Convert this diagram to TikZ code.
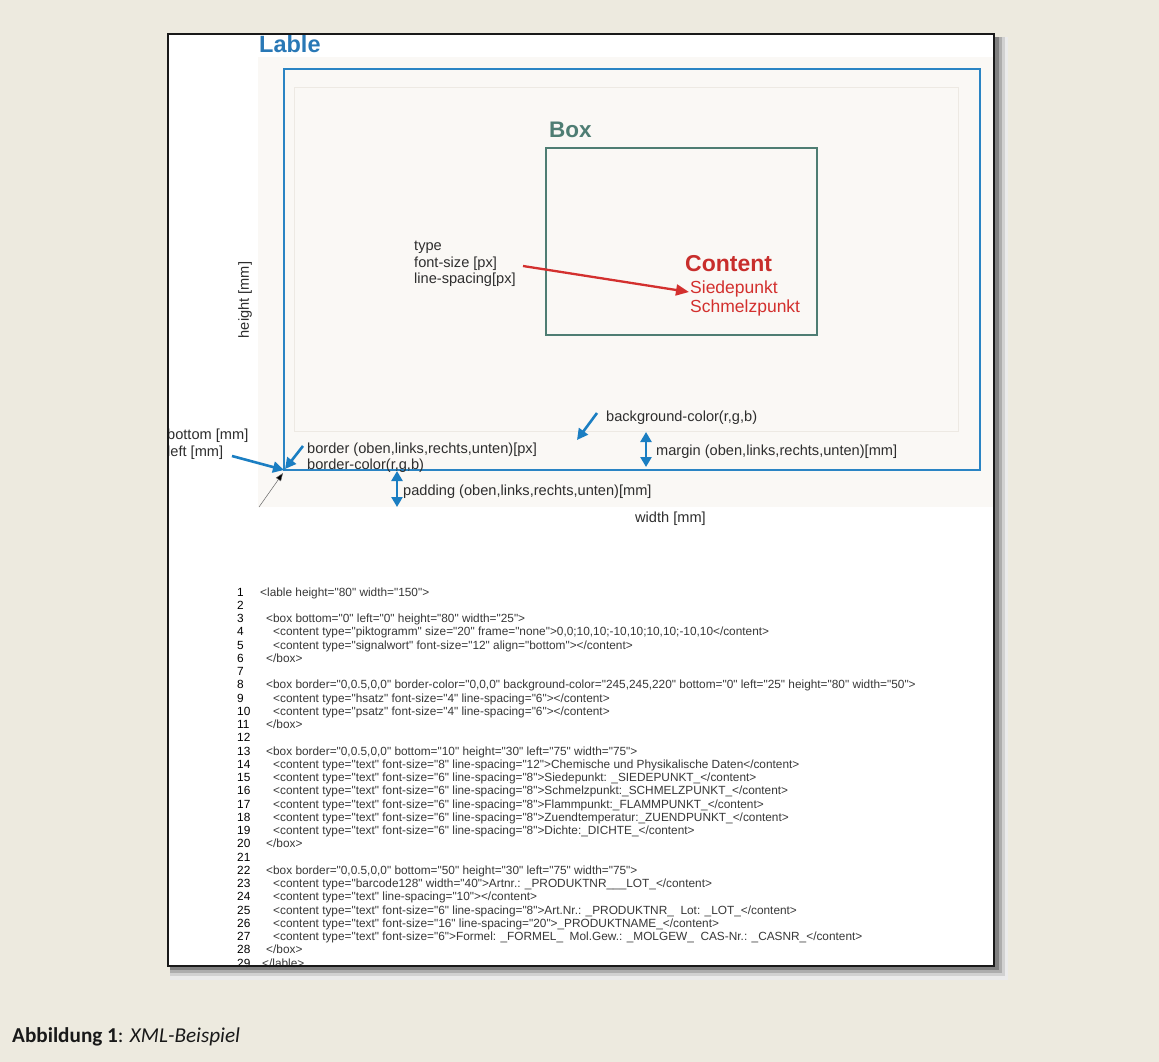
\documentclass[tikz,border=0pt]{standalone}
\usepackage{fontspec}
\setmainfont{Liberation Sans}
\newfontfamily\codefont{Liberation Sans}
\newfontfamily\capfont{Carlito}
\usetikzlibrary{arrows.meta}
\definecolor{bgc}{HTML}{EDEADF}
\definecolor{lightc}{HTML}{FAF8F5}
\definecolor{faintc}{HTML}{EDE9E3}
\definecolor{bluec}{HTML}{2A84C4}
\definecolor{arrowc}{HTML}{1B7EC2}
\definecolor{lablec}{HTML}{2978B6}
\definecolor{boxc}{HTML}{4E7D73}
\definecolor{redc}{HTML}{D3302E}
\definecolor{txtc}{HTML}{2E2E2E}
\definecolor{codec}{HTML}{383838}
\newcommand\codeln[3]{%
  \node[codenum] (n#1) at (237,{596+(#1-1)*13.25}) {#1};
  \node[codetxt] (c#1) at (#2,{596+(#1-1)*13.25}) {#3};}
\newcommand\blankln[1]{%
  \node[codenum] (n#1) at (237,{596+(#1-1)*13.25}) {#1};}
\begin{document}
\begin{tikzpicture}[x=1pt,y=-1pt,
  annot/.style={font=\fontsize{14.6}{16}\selectfont, text=txtc, inner sep=0pt, anchor=base west},
  redtxt/.style={font=\fontsize{17.5}{19}\selectfont, text=redc, inner sep=0pt, anchor=base west},
  codetxt/.style={font=\codefont\fontsize{11.85}{13}\selectfont, text=codec, inner sep=0pt, anchor=base west},
  codenum/.style={font=\codefont\fontsize{11.85}{13}\selectfont, text=black, inner sep=0pt, anchor=base west},
  bluearr/.style={draw=arrowc, line width=2.6pt, -{Triangle[length=11pt,width=11pt]}},
  dblarr/.style={draw=arrowc, line width=2.6pt, {Triangle[length=10pt,width=11pt]}-{Triangle[length=10pt,width=11pt]}},
  redarr/.style={draw=redc, line width=2.3pt, -{Triangle[length=13pt,width=11pt]}},
  thinarr/.style={draw=black!60, line width=0.5pt, -{Triangle[length=8pt,width=6pt,fill=black]}}
]
\useasboundingbox (0,0) rectangle (1159,1062);
\fill[bgc] (0,0) rectangle (1159,1062);
% shadow
\fill[black!8] (170,37) rectangle (1008,980);
\fill[black!18] (170,37) rectangle (1005,976);
\fill[black!32] (170,37) rectangle (1002,973);
\fill[black!50] (170,37) rectangle (999,970);
% panel
\fill[white] (168,34) rectangle (994,966);
\fill[lightc] (258,57) rectangle (994,507);
\draw[faintc, line width=0.9pt] (294,87) rectangle (958,431);
\draw[bluec, line width=2.6pt] (284,69) rectangle (980,470);
\draw[boxc, line width=2.4pt] (546,148) rectangle (817,335);

\node[font=\fontsize{23.5}{25}\selectfont\bfseries, text=lablec, inner sep=0pt, anchor=base west] (lable) at (259,53) {Lable};
\node[font=\fontsize{22.5}{24}\selectfont\bfseries, text=boxc, inner sep=0pt, anchor=base west] (box) at (549,138) {Box};

\node[annot] (type) at (414,250) {type};
\node[annot] (fsize) at (414,267) {font-size [px]};
\node[annot] (lsp) at (414,283) {line-spacing[px]};
\node[font=\fontsize{23}{25}\selectfont\bfseries, text=redc!95!black, inner sep=0pt, anchor=base west] (content) at (685,271) {Content};
\node[redtxt] (siede) at (690,293) {Siedepunkt};
\node[redtxt] (schmelz) at (690,312) {Schmelzpunkt};
\coordinate (redA) at (523,266);
\coordinate (redB) at (689,292);
\draw[redarr] (redA) -- (redB);

\node[annot, anchor=center, rotate=90] (height) at (245,300) {height [mm]};

\node[annot] (bgcol) at (606,421) {background-color(r,g,b)};
\coordinate (bgA) at (597,413);
\coordinate (bgB) at (577,440);
\draw[bluearr] (bgA) -- (bgB);

\node[annot] (margin) at (656,455) {margin (oben,links,rechts,unten)[mm]};
\coordinate (mA) at (646,432);
\coordinate (mB) at (646,467);
\draw[dblarr] (mA) -- (mB);

\node[annot] (border) at (307,453) {border (oben,links,rechts,unten)[px]};
\node[annot] (bcol) at (307,469) {border-color(r,g,b)};
\coordinate (bA) at (303,446);
\coordinate (corner) at (285,469);
\draw[bluearr] (bA) -- (corner);

\node[annot] (padding) at (403,495) {padding (oben,links,rechts,unten)[mm]};
\coordinate (pA) at (397,471);
\coordinate (pB) at (397,507);
\draw[dblarr] (pA) -- (pB);

\node[annot] (bottom) at (167,439) {bottom [mm]};
\node[annot] (left) at (167,456) {left [mm]};
\coordinate (lA) at (232,456);
\coordinate (corner2) at (284,470);
\draw[bluearr] (lA) -- (corner2);

\coordinate (tA) at (259,507);
\coordinate (tB) at (283,473);
\draw[thinarr] (tA) -- (tB);

\node[annot] (width) at (635,522) {width [mm]};

% code
\codeln{1}{260}{<lable height="80" width="150">}
\blankln{2}
\codeln{3}{266}{<box bottom="0" left="0" height="80" width="25">}
\codeln{4}{273}{<content type="piktogramm" size="20" frame="none">0,0;10,10;-10,10;10,10;-10,10</content>}
\codeln{5}{273}{<content type="signalwort" font-size="12" align="bottom"></content>}
\codeln{6}{266}{</box>}
\blankln{7}
\codeln{8}{266}{<box border="0,0.5,0,0" border-color="0,0,0" background-color="245,245,220" bottom="0" left="25" height="80" width="50">}
\codeln{9}{273}{<content type="hsatz" font-size="4" line-spacing="6"></content>}
\codeln{10}{273}{<content type="psatz" font-size="4" line-spacing="6"></content>}
\codeln{11}{266}{</box>}
\blankln{12}
\codeln{13}{266}{<box border="0,0.5,0,0" bottom="10" height="30" left="75" width="75">}
\codeln{14}{273}{<content type="text" font-size="8" line-spacing="12">Chemische und Physikalische Daten</content>}
\codeln{15}{273}{<content type="text" font-size="6" line-spacing="8">Siedepunkt: \_SIEDEPUNKT\_</content>}
\codeln{16}{273}{<content type="text" font-size="6" line-spacing="8">Schmelzpunkt:\_SCHMELZPUNKT\_</content>}
\codeln{17}{273}{<content type="text" font-size="6" line-spacing="8">Flammpunkt:\_FLAMMPUNKT\_</content>}
\codeln{18}{273}{<content type="text" font-size="6" line-spacing="8">Zuendtemperatur:\_ZUENDPUNKT\_</content>}
\codeln{19}{273}{<content type="text" font-size="6" line-spacing="8">Dichte:\_DICHTE\_</content>}
\codeln{20}{266}{</box>}
\blankln{21}
\codeln{22}{266}{<box border="0,0.5,0,0" bottom="50" height="30" left="75" width="75">}
\codeln{23}{273}{<content type="barcode128" width="40">Artnr.: \_PRODUKTNR\_\_\_LOT\_</content>}
\codeln{24}{273}{<content type="text" line-spacing="10"></content>}
\codeln{25}{273}{<content type="text" font-size="6" line-spacing="8">Art.Nr.: \_PRODUKTNR\_\ \ Lot: \_LOT\_</content>}
\codeln{26}{273}{<content type="text" font-size="16" line-spacing="20">\_PRODUKTNAME\_</content>}
\codeln{27}{273}{<content type="text" font-size="6">Formel: \_FORMEL\_\ \ Mol.Gew.: \_MOLGEW\_\ \ CAS-Nr.: \_CASNR\_</content>}
\codeln{28}{266}{</box>}
\codeln{29}{262}{</lable>}

% panel border
\draw[black!90, line width=2pt] (168,34) rectangle (994,966);

\node[font=\capfont\fontsize{21.2}{23}\selectfont, text=black!90, inner sep=0pt, anchor=base west] (caption) at (12,1042) {\textbf{Abbildung 1}: \textit{XML-Beispiel}};
\end{tikzpicture}
\end{document}
